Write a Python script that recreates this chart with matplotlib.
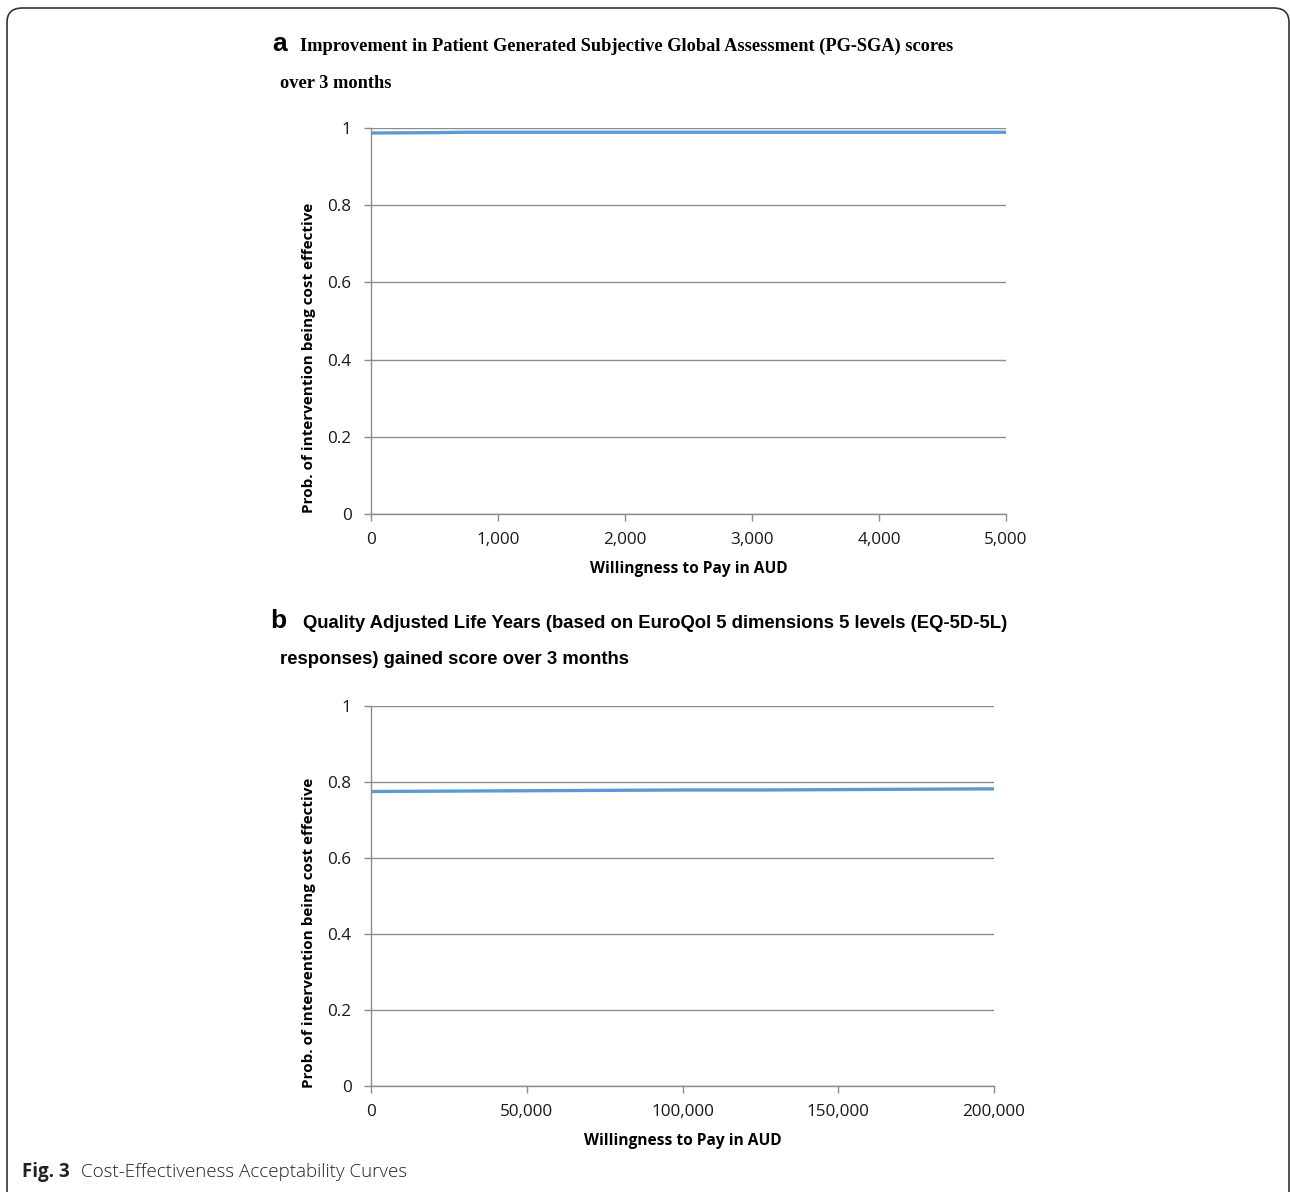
import matplotlib.pyplot as plt
from matplotlib.patches import FancyBboxPatch
from matplotlib.ticker import FuncFormatter

# panel a: PG-SGA
wtp_a = [0, 250, 500, 750, 1000, 1500, 2000, 2500, 3000, 3500, 4000, 4500, 5000]
prob_a = [0.987, 0.9875, 0.988, 0.989, 0.989, 0.989, 0.989, 0.989, 0.989, 0.989, 0.989, 0.989, 0.989]
xticks_a = [0, 1000, 2000, 3000, 4000, 5000]

# panel b: QALY
wtp_b = [0, 25000, 50000, 75000, 100000, 125000, 150000, 175000, 200000]
prob_b = [0.775, 0.776, 0.777, 0.778, 0.779, 0.779, 0.780, 0.781, 0.782]
xticks_b = [0, 50000, 100000, 150000, 200000]

yticks = [0, 0.2, 0.4, 0.6, 0.8, 1]
ylab = 'Prob. of intervention being cost effective'
xlab = 'Willingness to Pay in AUD'

grid_c = '#8c8c8c'
line_c = '#5b9bd5'
tick_font = 'Open Sans'


def fmt_y(v, pos):
  return '0' if v == 0 else ('1' if v == 1 else f'{v:g}')


def style_ax(ax, xticks, xmax, ax_w_px, ax_h_px):
  ax.set_xlim(0, xmax)
  ax.set_ylim(0, 1)
  ax.set_xticks(xticks)
  ax.set_yticks(yticks)
  ax.xaxis.set_major_formatter(FuncFormatter(lambda v, p: f'{int(v):,}'))
  ax.yaxis.set_major_formatter(FuncFormatter(fmt_y))
  ax.grid(axis='y', color=grid_c, lw=1)
  ax.set_axisbelow(True)
  for s in ['top', 'right']:
    ax.spines[s].set_visible(False)
  for s in ['left', 'bottom']:
    ax.spines[s].set_color(grid_c)
    ax.spines[s].set_linewidth(1)
  ax.tick_params(axis='both', colors=grid_c, length=5, width=1, labelcolor='#1a1a1a', labelsize=12.3)
  ax.tick_params(axis='y', pad=9)
  ax.tick_params(axis='x', pad=8)
  for lab in ax.get_xticklabels() + ax.get_yticklabels():
    lab.set_fontfamily(tick_font)
  ax.set_xlabel(xlab, fontsize=11.2, fontweight='bold', fontfamily=tick_font, labelpad=9)
  ax.set_ylabel(ylab, fontsize=11, fontweight='bold', fontfamily=tick_font, va='center')
  # Excel-like label placement: x centre ~62px left of the axis, shifted down ~37px
  ax.yaxis.set_label_coords(-62 / ax_w_px, 0.5 - 37 / ax_h_px)


fig = plt.figure(figsize=(12.9, 11.92), dpi=100)

# rounded frame
fig.patches.append(FancyBboxPatch((7 / 1290, -0.02), 1282 / 1290, 1 - 8 / 1192 + 0.02,
                                  boxstyle='round,pad=0,rounding_size=0.012',
                                  transform=fig.transFigure, fill=False,
                                  ec='#333333', lw=1.2))

ax1 = fig.add_axes([371 / 1290, 1 - 514 / 1192, 635 / 1290, 386 / 1192])
ax1.plot(wtp_a, prob_a, color=line_c, lw=2.4)
style_ax(ax1, xticks_a, 5000, 635, 386)

ax2 = fig.add_axes([371 / 1290, 1 - 1086 / 1192, 623 / 1290, 380 / 1192])
ax2.plot(wtp_b, prob_b, color=line_c, lw=2.4)
style_ax(ax2, xticks_b, 200000, 623, 380)

# titles
fig.text(272 / 1290, 1 - 44 / 1192, 'a', fontsize=19, fontweight='bold',
         fontfamily='Liberation Sans', va='center')
fig.text(300 / 1290, 1 - 46 / 1192,
         'Improvement in Patient Generated Subjective Global Assessment (PG-SGA) scores',
         fontsize=13.2, fontweight='bold', fontfamily='Liberation Serif', va='center')
fig.text(280 / 1290, 1 - 83 / 1192, 'over 3 months',
         fontsize=13.2, fontweight='bold', fontfamily='Liberation Serif', va='center')

fig.text(270 / 1290, 1 - 621 / 1192, 'b', fontsize=19, fontweight='bold',
         fontfamily='Liberation Sans', va='center')
fig.text(303 / 1290, 1 - 623 / 1192,
         'Quality Adjusted Life Years (based on EuroQol 5 dimensions 5 levels (EQ-5D-5L)',
         fontsize=13.3, fontweight='bold', fontfamily='Liberation Sans', va='center')
fig.text(280 / 1290, 1 - 660 / 1192, 'responses) gained score over 3 months',
         fontsize=13.3, fontweight='bold', fontfamily='Liberation Sans', va='center')

# caption
fig.text(22 / 1290, 1 - 1172 / 1192, 'Fig. 3', fontsize=13.5, fontweight='bold',
         fontfamily='Open Sans', color='#222222', va='center')
fig.text(81 / 1290, 1 - 1172 / 1192, 'Cost-Effectiveness Acceptability Curves', fontsize=13.5,
         fontweight='light', fontfamily='Open Sans', color='#222222', va='center')

fig.savefig('out.png', dpi=100)
